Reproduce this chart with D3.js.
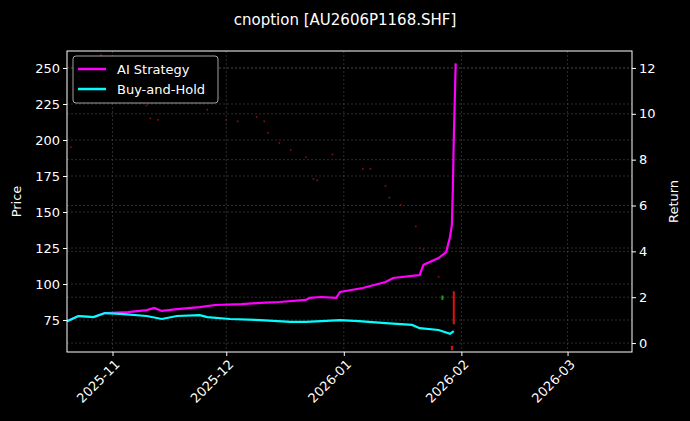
<!DOCTYPE html>
<html><head><meta charset="utf-8">
<script src="https://cdn.jsdelivr.net/npm/d3@7"></script>
<style>
body{margin:0;background:#000;}
svg{font-family:"DejaVu Sans",sans-serif;}
</style></head>
<body><div id="chart"></div>
<script>
const title = "cnoption [AU2606P1168.SHF]";
const priceDates = ["2025-10-21","2025-10-29","2025-11-10","2025-11-11","2025-11-13","2025-11-26","2025-12-01","2025-12-04","2025-12-09","2025-12-11","2025-12-12","2025-12-15","2025-12-18","2025-12-22","2025-12-24","2025-12-25","2025-12-29","2026-01-06","2026-01-08","2026-01-12","2026-01-13","2026-01-16","2026-01-20","2026-01-21","2026-01-22","2026-01-26"];
const priceValues = [195,259,224,215,214,221,214,213,216,213,205,198,193,188,173,172,190,180,180,168,160,155,140,125,124,105];
const candleDates = ["2026-01-27","2026-01-29T12:00","2026-01-30"];
const candleOpen = [89,57,95];
const candleClose = [92,54,72];
const bhDates = ["2025-10-20","2025-10-23","2025-10-27","2025-10-30","2025-11-03","2025-11-10","2025-11-14","2025-11-18","2025-11-24","2025-11-26","2025-12-02","2025-12-10","2025-12-18","2025-12-22","2025-12-26","2025-12-31","2026-01-05","2026-01-12","2026-01-19","2026-01-21","2026-01-26","2026-01-29","2026-01-30"];
const bhValues = [0.95,1.18,1.13,1.31,1.27,1.18,1.05,1.18,1.22,1.13,1.05,1.0,0.92,0.92,0.96,1.0,0.96,0.87,0.79,0.65,0.57,0.40,0.52];
const aiDates = ["2025-10-20","2025-10-23","2025-10-27","2025-10-30","2025-11-05","2025-11-10","2025-11-12","2025-11-14","2025-11-18","2025-11-24","2025-11-28","2025-12-05","2025-12-10","2025-12-15","2025-12-22","2025-12-23","2025-12-26","2025-12-30","2025-12-31","2026-01-06","2026-01-09","2026-01-12","2026-01-14","2026-01-19","2026-01-21","2026-01-22","2026-01-26","2026-01-28","2026-01-29","2026-01-29T12:00","2026-01-29T18:00","2026-01-30","2026-01-30T06:00","2026-01-30T12:00"];
const aiValues = [0.95,1.18,1.13,1.31,1.35,1.44,1.53,1.40,1.48,1.57,1.66,1.70,1.75,1.79,1.88,1.97,2.01,1.97,2.23,2.40,2.53,2.66,2.84,2.93,2.97,3.41,3.71,3.97,4.63,5.15,6.7,8.9,10.5,12.2];
const xTicks = ["2025-11-01","2025-12-01","2026-01-01","2026-02-01","2026-03-01"];
const leftTicks = [75,100,125,150,175,200,225,250];
const rightTicks = [0,2,4,6,8,10,12];

const W=690,H=421,m={l:67,r:58,t:51,b:69};
const iw=W-m.l-m.r, ih=H-m.t-m.b;
const pt = s => new Date(s.length>10 ? s : s+"T00:00");
const svg=d3.select("#chart").append("svg").attr("width",W).attr("height",H);
svg.append("rect").attr("width",W).attr("height",H).attr("fill","#000");
const g=svg.append("g").attr("transform",`translate(${m.l},${m.t})`);

const x=d3.scaleTime().domain([pt("2025-10-20"),pt("2026-03-18")]).range([0,iw]);
const y=d3.scaleLinear().domain([52.8,261.8]).range([ih,0]);
const y2=d3.scaleLinear().domain([-0.39,12.74]).range([ih,0]);

const grid=g.append("g").attr("stroke","#4a4a4a").attr("stroke-width",0.6).attr("stroke-dasharray","2,2");
xTicks.forEach(t=>grid.append("line").attr("x1",x(pt(t))).attr("x2",x(pt(t))).attr("y1",0).attr("y2",ih));
leftTicks.forEach(t=>grid.append("line").attr("x1",0).attr("x2",iw).attr("y1",y(t)).attr("y2",y(t)));
rightTicks.forEach(t=>grid.append("line").attr("x1",0).attr("x2",iw).attr("y1",y2(t)).attr("y2",y2(t)));

// price marks
g.selectAll(".pd").data(priceDates).join("rect")
  .attr("x",d=>x(pt(d))-0.8).attr("y",(d,i)=>y(priceValues[i])-0.8)
  .attr("width",1.6).attr("height",1.6).attr("fill","#8b1010");
g.selectAll(".cd").data(candleDates).join("rect")
  .attr("x",d=>x(pt(d))-1)
  .attr("y",(d,i)=>y(Math.max(candleOpen[i],candleClose[i])))
  .attr("width",2)
  .attr("height",(d,i)=>Math.max(2,Math.abs(y(candleOpen[i])-y(candleClose[i]))))
  .attr("fill",(d,i)=>candleClose[i]>=candleOpen[i]?"#1fa31f":"#e01010");

const line=d3.line().x(d=>x(pt(d[0]))).y(d=>y2(d[1]));
g.append("path").datum(aiDates.map((d,i)=>[d,aiValues[i]])).attr("d",line)
  .attr("fill","none").attr("stroke","#ff00ff").attr("stroke-width",2.2);
g.append("path").datum(bhDates.map((d,i)=>[d,bhValues[i]])).attr("d",line)
  .attr("fill","none").attr("stroke","#00ffff").attr("stroke-width",2.2);

g.append("rect").attr("width",iw).attr("height",ih).attr("fill","none").attr("stroke","#fff").attr("stroke-width",1);

const xa=g.append("g").attr("transform",`translate(0,${ih})`)
  .call(d3.axisBottom(x).tickValues(xTicks.map(pt)).tickFormat(d3.timeFormat("%Y-%m")).tickSize(4));
xa.selectAll("text").attr("transform","rotate(-45)").attr("text-anchor","end").attr("dx","-0.3em").attr("dy","0.6em");
const ya=g.append("g").call(d3.axisLeft(y).tickValues(leftTicks).tickSize(4));
const ya2=g.append("g").attr("transform",`translate(${iw},0)`).call(d3.axisRight(y2).tickValues(rightTicks).tickSize(4));
[xa,ya,ya2].forEach(a=>{a.select(".domain").remove();a.selectAll("line").attr("stroke","#fff");
  a.selectAll("text").attr("fill","#fff").attr("font-size",13).attr("font-family","DejaVu Sans");});

svg.append("text").attr("x",W/2).attr("y",25).attr("text-anchor","middle").attr("fill","#fff").attr("font-size",15).text(title);
svg.append("text").attr("transform",`translate(21,${m.t+ih/2}) rotate(-90)`).attr("text-anchor","middle").attr("fill","#fff").attr("font-size",13).text("Price");
svg.append("text").attr("transform",`translate(678,${m.t+ih/2}) rotate(-90)`).attr("text-anchor","middle").attr("fill","#fff").attr("font-size",13).text("Return");

const lg=g.append("g").attr("transform","translate(6,5)");
lg.append("rect").attr("width",145).attr("height",47).attr("rx",3).attr("fill","#000").attr("stroke","#ccc").attr("stroke-width",0.8);
[["AI Strategy","#ff00ff"],["Buy-and-Hold","#00ffff"]].forEach((e,i)=>{
  lg.append("line").attr("x1",5).attr("x2",33).attr("y1",13+i*20).attr("y2",13+i*20).attr("stroke",e[1]).attr("stroke-width",2.5);
  lg.append("text").attr("x",44).attr("y",17.5+i*20).attr("fill","#fff").attr("font-size",13).text(e[0]);
});
</script></body></html>
